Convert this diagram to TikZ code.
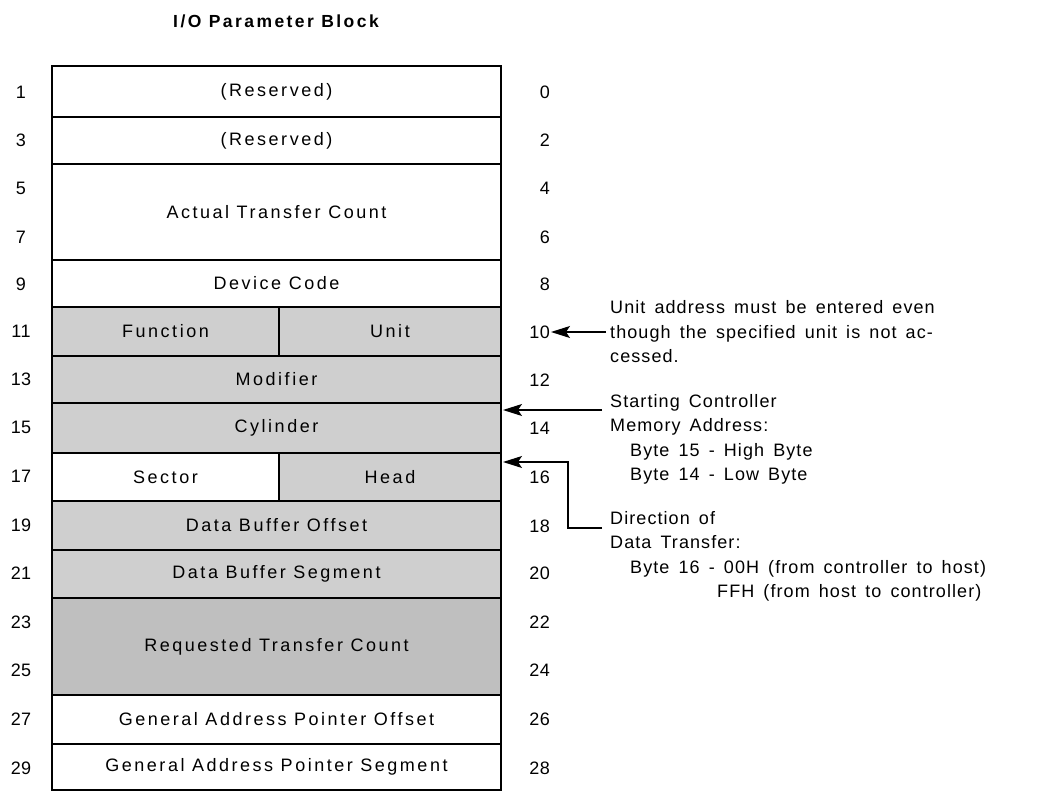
\documentclass[tikz,border=0pt]{standalone}
\usepackage{fontspec}
\usepackage{tikz}
\usetikzlibrary{arrows.meta, positioning}

\newfontfamily\fieldfont[LetterSpace=14]{Liberation Sans}
\newfontfamily\notefont[LetterSpace=6, WordSpace=1.5]{Liberation Sans}
\newfontfamily\numfont[LetterSpace=2]{Liberation Sans}

\tikzset{
  field/.style={draw, rectangle, line width=2pt, anchor=north west, inner sep=0pt, outer sep=0pt,
    minimum width=449pt, font=\fontsize{18}{20}\fieldfont},
  half/.style={field, minimum width=227pt},
  dots/.style={fill=black!19},
  dense/.style={fill=black!25},
  num/.style={font=\fontsize{18}{20}\numfont, inner sep=1pt},
  note/.style={font=\fontsize{18}{24.5}\notefont, align=left, anchor=north west, inner sep=0pt},
}

\begin{document}
\begin{tikzpicture}[x=1pt, y=-1pt, >={Stealth[length=19pt, width=12pt, inset=4pt]}]
    \path[use as bounding box] (0,0) rectangle (1046,792);

    \node[font=\fontsize{17.5}{18}\fieldfont\bfseries] (title) at (276,21) {I/O Parameter Block};

    % parameter block fields
    \node[field, minimum height=51pt] (res1) at (52,66) {(Reserved)};
    \node[field, minimum height=47pt] (res2) at (52,117) {(Reserved)};
    \node[field, minimum height=96pt] (actual) at (52,164) {Actual Transfer Count};
    \node[field, minimum height=47pt] (devcode) at (52,260) {Device Code};
    \node[half, dots, minimum height=49pt] (func) at (52,307) {Function};
    \node[half, dots, minimum height=49pt, minimum width=222pt] (unit) at (279,307) {Unit};
    \node[field, dots, minimum height=47pt] (modif) at (52,356) {Modifier};
    \node[field, dots, minimum height=50pt] (cyl) at (52,403) {Cylinder};
    \node[half, minimum height=48pt] (sector) at (52,453) {Sector};
    \node[half, dots, minimum height=48pt, minimum width=222pt] (head) at (279,453) {Head};
    \node[field, dots, minimum height=49pt] (dbofs) at (52,501) {Data Buffer Offset};
    \node[field, dots, minimum height=48pt] (dbseg) at (52,550) {Data Buffer Segment};
    \node[field, dense, minimum height=97pt] (reqcount) at (52,598) {Requested Transfer Count};
    \node[field, minimum height=49pt] (gapofs) at (52,695) {General Address Pointer Offset};
    \node[field, minimum height=46pt] (gapseg) at (52,744) {General Address Pointer Segment};

    % byte numbers, odd on the left, even on the right
    \node[num] (b1) at (21,92) {1};
    \node[num] (b3) at (21,140) {3};
    \node[num] (b5) at (21,188) {5};
    \node[num] (b7) at (21,237) {7};
    \node[num] (b9) at (21,284) {9};
    \node[num] (b11) at (21,331) {11};
    \node[num] (b13) at (21,379) {13};
    \node[num] (b15) at (21,427) {15};
    \node[num] (b17) at (21,476) {17};
    \node[num] (b19) at (21,525) {19};
    \node[num] (b21) at (21,573) {21};
    \node[num] (b23) at (21,622) {23};
    \node[num] (b25) at (21,670) {25};
    \node[num] (b27) at (21,719) {27};
    \node[num] (b29) at (21,768) {29};
    \node[num, anchor=east] (b0) at (551,92) {0};
    \node[num, anchor=east] (b2) at (551,140) {2};
    \node[num, anchor=east] (b4) at (551,188) {4};
    \node[num, anchor=east] (b6) at (551,237) {6};
    \node[num, anchor=east] (b8) at (551,284) {8};
    \node[num, anchor=east] (b10) at (551,332) {10};
    \node[num, anchor=east] (b12) at (551,380) {12};
    \node[num, anchor=east] (b14) at (551,428) {14};
    \node[num, anchor=east] (b16) at (551,477) {16};
    \node[num, anchor=east] (b18) at (551,526) {18};
    \node[num, anchor=east] (b20) at (551,573) {20};
    \node[num, anchor=east] (b22) at (551,622) {22};
    \node[num, anchor=east] (b24) at (551,670) {24};
    \node[num, anchor=east] (b26) at (551,719) {26};
    \node[num, anchor=east] (b28) at (551,768) {28};

    % notes
    \node[note, anchor=west] (unitnote) at (610,332) {Unit address must be entered even\\though the specified unit is not ac-\\cessed.};
    \node[note] (startnote) at (610,394) {Starting Controller\\Memory Address:\\\hspace*{20pt}Byte 15 - High Byte\\\hspace*{20pt}Byte 14 - Low Byte};
    \node[note] (dirnote) at (610,511) {Direction of\\Data Transfer:\\\hspace*{20pt}Byte 16 - 00H (from controller to host)\\\hspace*{107pt}FFH (from host to controller)};

    \coordinate (unitfrom) at (606,332);
    \coordinate (startfrom) at (602,410);
    \coordinate (cyltip) at (503,410);
    \coordinate (dirfrom) at (602,528);
    \coordinate (dirbend) at (568,528);
    \coordinate (headtip) at (503,462);

    \draw[->, line width=1.2pt] (unitfrom) -- (b10.east);
    \draw[->, line width=1.2pt] (startfrom) -- (cyltip);
    \draw[->, line width=1.2pt] (dirfrom) -- (dirbend) |- (headtip);
\end{tikzpicture}
\end{document}
